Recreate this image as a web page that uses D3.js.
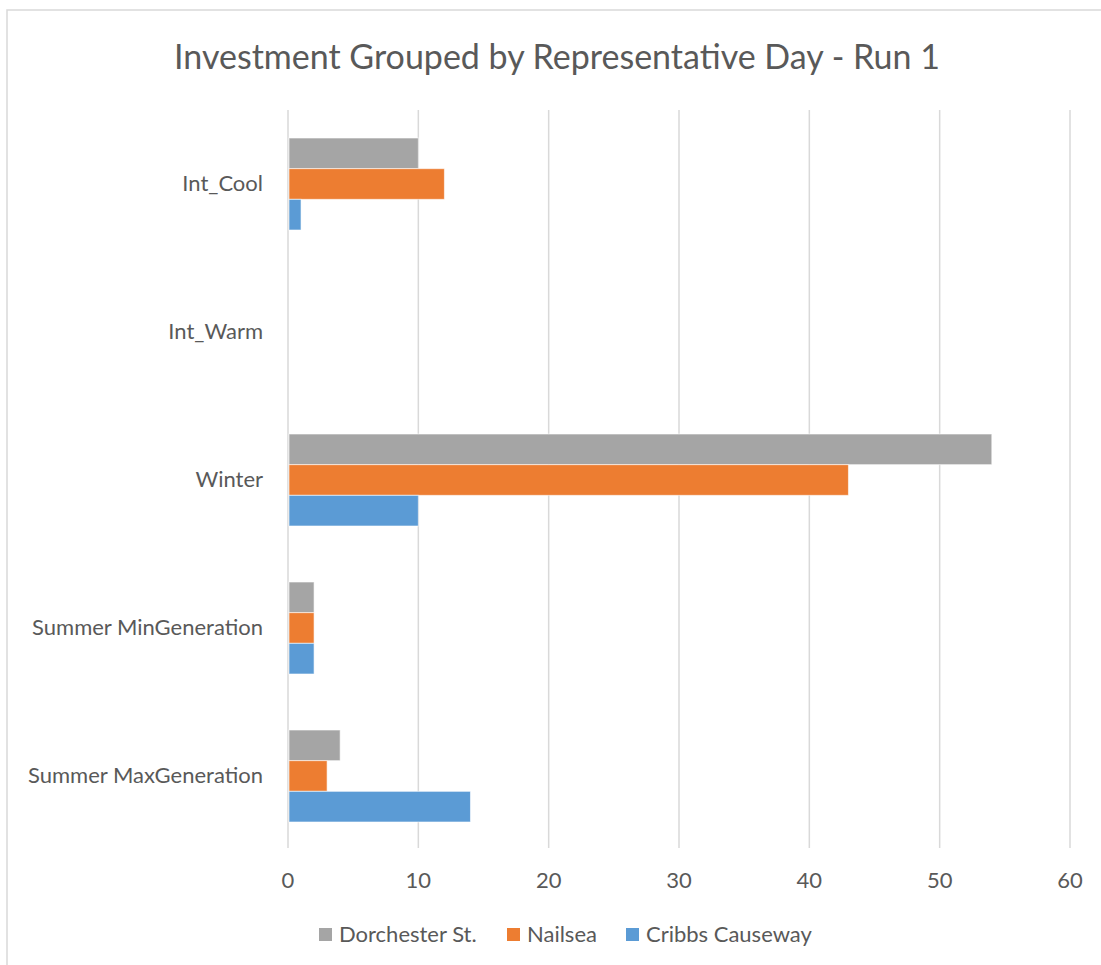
<!DOCTYPE html>
<html>
<head>
    <title>Investment Grouped by Representative Day - Run 1</title>
    <script src="https://cdnjs.cloudflare.com/ajax/libs/d3/7.8.5/d3.min.js"></script>
    <style>
        body {
            margin: 0;
            background-color: white;
            font-family: Lato, "Open Sans", sans-serif;
        }
        text {
            fill: #595959;
        }
    </style>
</head>
<body>
    <div id="chart"></div>

    <script>
        // Data
        const categories = ["Int_Cool", "Int_Warm", "Winter", "Summer MinGeneration", "Summer MaxGeneration"];
        const seriesNames = ["Dorchester St.", "Nailsea", "Cribbs Causeway"];
        const dorchester = [10, 0, 54, 2, 4];
        const nailsea = [12, 0, 43, 2, 3];
        const cribbs = [1, 0, 10, 2, 14];
        const xTicks = [0, 10, 20, 30, 40, 50, 60];
        const colors = ["#a5a5a5", "#ed7d31", "#5b9bd5"];

        const seriesValues = [dorchester, nailsea, cribbs];

        const width = 1101;
        const height = 965;

        const svg = d3.select("#chart")
            .append("svg")
            .attr("width", width)
            .attr("height", height);

        // Chart border (only left and top visible in the crop)
        svg.append("rect")
            .attr("x", 7)
            .attr("y", 10)
            .attr("width", width + 20)
            .attr("height", height + 20)
            .attr("fill", "white")
            .attr("stroke", "#d9d9d9")
            .attr("stroke-width", 1.5);

        // Title
        svg.append("text")
            .attr("x", 557)
            .attr("y", 69)
            .attr("text-anchor", "middle")
            .attr("font-size", 34)
            .text("Investment Grouped by Representative Day - Run 1");

        const x = d3.scaleLinear()
            .domain([0, 60])
            .range([288, 1070]);

        const y = d3.scaleBand()
            .domain(categories)
            .range([110, 850]);

        const y1 = d3.scaleBand()
            .domain(seriesNames)
            .range([28, y.bandwidth() - 28]);

        // Gridlines
        svg.append("g")
            .selectAll("line")
            .data(xTicks)
            .enter()
            .append("line")
            .attr("x1", d => x(d))
            .attr("x2", d => x(d))
            .attr("y1", 110)
            .attr("y2", 848)
            .attr("stroke", "#d9d9d9")
            .attr("stroke-width", 1.5);

        // Bars
        const groups = svg.append("g")
            .selectAll("g")
            .data(categories)
            .enter()
            .append("g")
            .attr("transform", d => `translate(0,${y(d)})`);

        groups.selectAll("rect")
            .data((c, i) => seriesNames.map((s, j) => ({ series: s, value: seriesValues[j][i], color: colors[j] })))
            .enter()
            .filter(d => d.value > 0)
            .append("rect")
            .attr("x", x(0) + 1)
            .attr("y", d => y1(d.series))
            .attr("width", d => x(d.value) - x(0) - 1)
            .attr("height", y1.bandwidth())
            .attr("fill", d => d.color)
            .attr("stroke", "white")
            .attr("stroke-opacity", 0.6)
            .attr("stroke-width", 1);

        // Category labels
        svg.append("g")
            .selectAll("text")
            .data(categories)
            .enter()
            .append("text")
            .attr("x", 263)
            .attr("y", d => y(d) + y.bandwidth() / 2 + 7)
            .attr("text-anchor", "end")
            .attr("font-size", 22)
            .text(d => d);

        // X tick labels
        svg.append("g")
            .selectAll("text")
            .data(xTicks)
            .enter()
            .append("text")
            .attr("x", d => x(d))
            .attr("y", 888)
            .attr("text-anchor", "middle")
            .attr("font-size", 22)
            .text(d => d);

        // Legend
        const legendX = [319, 507, 626];
        const legend = svg.append("g")
            .selectAll("g")
            .data(seriesNames)
            .enter()
            .append("g")
            .attr("transform", (d, i) => `translate(${legendX[i]},928)`);

        legend.append("rect")
            .attr("width", 13)
            .attr("height", 13)
            .attr("fill", (d, i) => colors[i]);

        legend.append("text")
            .attr("x", 20)
            .attr("y", 14)
            .attr("font-size", 22)
            .text(d => d);
    </script>
</body>
</html>
